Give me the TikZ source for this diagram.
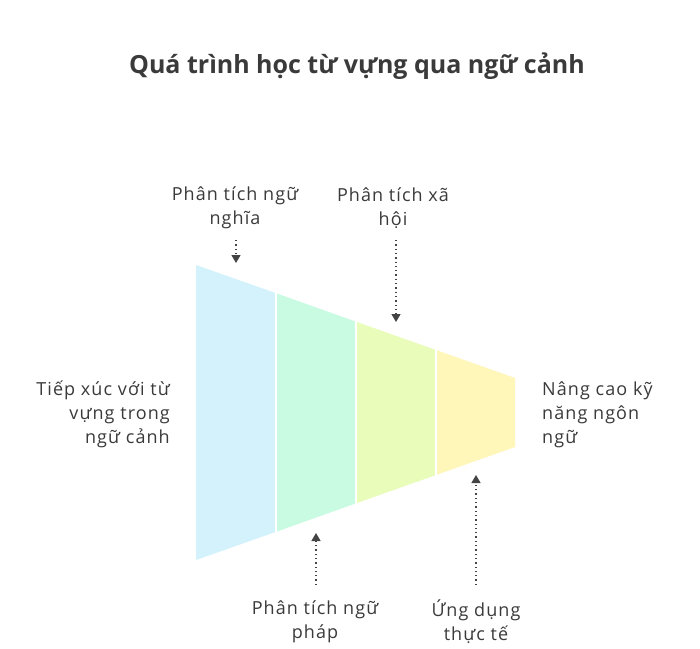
\documentclass[tikz,border=0pt]{standalone}
\usepackage{fontspec}
\setmainfont{Open Sans}
\usetikzlibrary{arrows.meta}
\definecolor{txt}{HTML}{3A3A3A}
\definecolor{arrc}{HTML}{444444}
\definecolor{cA}{HTML}{D3F2FC}
\definecolor{cB}{HTML}{C9FBE3}
\definecolor{cC}{HTML}{E9FCB9}
\definecolor{cD}{HTML}{FFF6B9}
\tikzset{
  lbl/.style={text=txt, font=\fontsize{18}{24}\selectfont\addfontfeature{LetterSpace=6}, inner sep=0pt},
  ttl/.style={text=txt, font=\fontsize{25}{28}\selectfont\bfseries, inner sep=0pt},
  arr/.style={draw=arrc, line width=1.3pt, dash pattern=on 1.3pt off 3pt,
    -{Triangle[width=9pt,length=8pt,fill=arrc]}},
  gap/.style={draw=white, line width=2pt}
}
\begin{document}
\begin{tikzpicture}[x=1pt,y=-1pt]
\useasboundingbox (0,0) rectangle (700,648);
\fill[white] (0,0) rectangle (700,648);
% funnel segments
\fill[cA] (196,265) -- (275.5,293) -- (275.5,532) -- (196,560) -- cycle;
\fill[cB] (275.5,293) -- (355.5,321.5) -- (355.5,503.5) -- (275.5,532) -- cycle;
\fill[cC] (355.5,321.5) -- (436,350) -- (436,475) -- (355.5,503.5) -- cycle;
\fill[cD] (436,350) -- (515,378) -- (515,447) -- (436,475) -- cycle;
\draw[gap] (275.5,290) -- (275.5,535);
\draw[gap] (355.5,318) -- (355.5,507);
\draw[gap] (436,347) -- (436,478);
% title
\node[ttl] (title) at (357,66) {Quá trình học từ vựng qua ngữ cảnh};
% labels
\node[lbl, align=center] (sem) at (235,208) {Phân tích ngữ\\nghĩa};
\node[lbl, align=center] (soc) at (393,208) {Phân tích xã\\hội};
\node[lbl, align=center] (gram) at (315,622) {Phân tích ngữ\\pháp};
\node[lbl, align=center] (app) at (476,622) {Ứng dụng\\thực tế};
\node[lbl, align=right, anchor=east] (expo) at (170,414) {Tiếp xúc với từ\\vựng trong\\ngữ cảnh};
\node[lbl, align=left, anchor=west] (impr) at (542,415) {Nâng cao kỹ\\năng ngôn\\ngữ};
% arrow endpoints
\coordinate (semS) at (236,240);
\coordinate (semT) at (236,263);
\coordinate (socS) at (396,240);
\coordinate (socT) at (396,322);
\coordinate (gramS) at (316,585);
\coordinate (gramT) at (316,533);
\coordinate (appS) at (476,585);
\coordinate (appT) at (476,475);
\draw[arr] (semS) -- (semT);
\draw[arr] (socS) -- (socT);
\draw[arr] (gramS) -- (gramT);
\draw[arr] (appS) -- (appT);
\end{tikzpicture}
\end{document}
